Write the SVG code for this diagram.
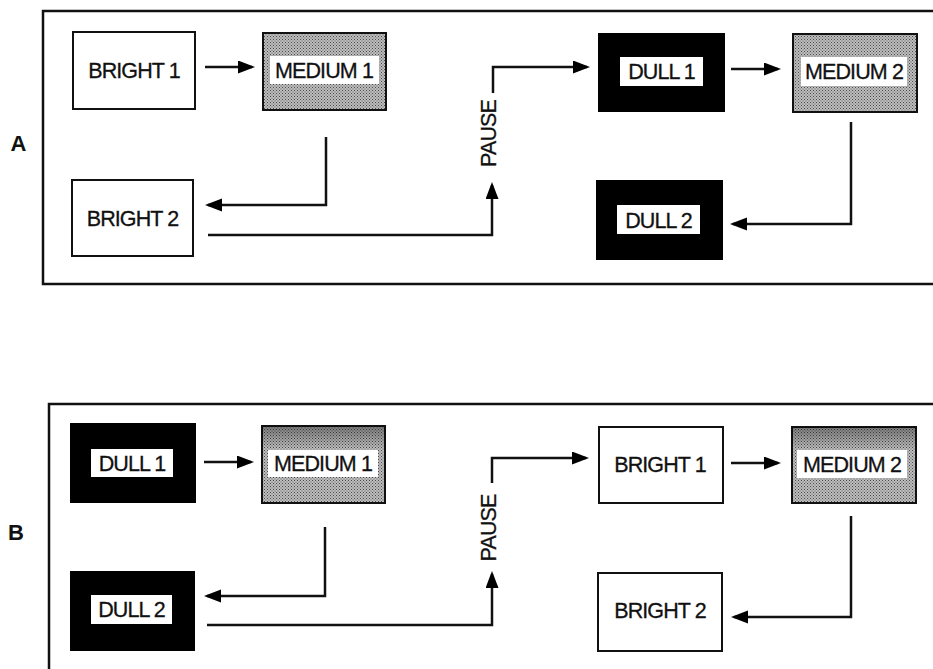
<svg xmlns="http://www.w3.org/2000/svg" width="933" height="669" viewBox="0 0 933 669">
<defs>
<pattern id="stip" width="3" height="3" patternUnits="userSpaceOnUse">
<rect width="3" height="3" fill="#bdbdbd"/>
<rect x="0" y="0" width="1" height="1" fill="#4a4a4a"/>
<rect x="1.5" y="1.5" width="1" height="1" fill="#5a5a5a"/>
</pattern>
<linearGradient id="shadeB1" x1="0" y1="0" x2="0" y2="1">
<stop offset="0" stop-color="#000" stop-opacity="0.35"/>
<stop offset="0.3" stop-color="#000" stop-opacity="0"/>
</linearGradient>
<marker id="ah" markerUnits="userSpaceOnUse" markerWidth="18" markerHeight="14" refX="14" refY="6.5" orient="auto">
<path d="M0,0 L17,6.5 L0,13 Z" fill="#000"/>
</marker>
<style>
.frame{fill:none;stroke:#111;stroke-width:2.5}
.bright{fill:#fff;stroke:#111;stroke-width:2}
.medium{fill:url(#stip);stroke:#111;stroke-width:2}
.dull{fill:#000;stroke:#000;stroke-width:2}
.inner{fill:#fff}
.lbl{font-family:"Liberation Sans",Arial,sans-serif;font-size:21.5px;fill:#111;text-anchor:middle;letter-spacing:-0.9px;stroke:#111;stroke-width:0.3}
.panel{font-family:"Liberation Sans",Arial,sans-serif;font-size:22px;font-weight:bold;fill:#111;text-anchor:middle}
.conn{fill:none;stroke:#111;stroke-width:2.5;marker-end:url(#ah)}
</style>
</defs>

<g id="frames">
<path class="frame" d="M936,11 H43 V284 H936"/>
<path class="frame" d="M936,404 H49 V672"/>
<text class="panel" x="18.5" y="151">A</text>
<text class="panel" x="16" y="540">B</text>
</g>

<!-- Panel A -->
<g id="a-bright1">
<rect class="bright" x="73" y="32" width="122" height="77"/>
<text class="lbl" x="134" y="77.5">BRIGHT 1</text>
</g>
<g id="a-medium1">
<rect class="medium" x="263" y="33" width="123" height="77"/>
<rect class="inner" x="270" y="56" width="109" height="28"/>
<text class="lbl" x="324" y="77.5">MEDIUM 1</text>
</g>
<g id="a-bright2">
<rect class="bright" x="72" y="180" width="121" height="76"/>
<text class="lbl" x="132.5" y="225.5">BRIGHT 2</text>
</g>
<g id="a-pause">
<text class="lbl" transform="translate(496,133.5) rotate(-90)" x="0" y="0">PAUSE</text>
</g>
<g id="a-dull1">
<rect class="dull" x="599" y="34" width="125" height="77"/>
<rect class="inner" x="620" y="57" width="83" height="29"/>
<text class="lbl" x="661.5" y="78.5">DULL 1</text>
</g>
<g id="a-medium2">
<rect class="medium" x="793" y="34" width="124" height="78"/>
<rect class="inner" x="801" y="57" width="106" height="29"/>
<text class="lbl" x="854" y="78.5">MEDIUM 2</text>
</g>
<g id="a-dull2">
<rect class="dull" x="597" y="181" width="125" height="78"/>
<rect class="inner" x="617" y="205" width="83" height="29"/>
<text class="lbl" x="658.5" y="227.5">DULL 2</text>
</g>

<!-- Panel B -->
<g id="b-dull1">
<rect class="dull" x="71" y="424" width="124" height="78"/>
<rect class="inner" x="91" y="449" width="82" height="28"/>
<text class="lbl" x="132" y="470.5">DULL 1</text>
</g>
<g id="b-medium1">
<rect class="medium" x="262" y="426" width="123" height="77"/>
<rect x="262" y="426" width="123" height="77" fill="url(#shadeB1)"/>
<rect class="inner" x="268" y="450" width="110" height="27"/>
<text class="lbl" x="323" y="471">MEDIUM 1</text>
</g>
<g id="b-dull2">
<rect class="dull" x="71" y="572" width="123" height="78"/>
<rect class="inner" x="91" y="595" width="81" height="29"/>
<text class="lbl" x="131.5" y="616.5">DULL 2</text>
</g>
<g id="b-pause">
<text class="lbl" transform="translate(496,528) rotate(-90)" x="0" y="0">PAUSE</text>
</g>
<g id="b-bright1">
<rect class="bright" x="599" y="427" width="124" height="76"/>
<text class="lbl" x="660" y="471.5">BRIGHT 1</text>
</g>
<g id="b-medium2">
<rect class="medium" x="792" y="427" width="124" height="76"/>
<rect x="792" y="427" width="124" height="76" fill="url(#shadeB1)"/>
<rect class="inner" x="797" y="450" width="110" height="28"/>
<text class="lbl" x="852" y="471.5">MEDIUM 2</text>
</g>
<g id="b-bright2">
<rect class="bright" x="598" y="573" width="124" height="78"/>
<text class="lbl" x="660" y="617.5">BRIGHT 2</text>
</g>

<g id="connectors">
<!-- A -->
<path class="conn" d="M205,67 H252"/>
<path class="conn" d="M326,137 V205 H208"/>
<path class="conn" d="M208,235 H492 V185"/>
<path class="conn" d="M493,93 V67 H587"/>
<path class="conn" d="M731,69 H778"/>
<path class="conn" d="M851,122 V224 H733"/>
<!-- B -->
<path class="conn" d="M204,462 H251"/>
<path class="conn" d="M325,527 V596 H207"/>
<path class="conn" d="M207,625 H492 V574"/>
<path class="conn" d="M492,483 V458 H586"/>
<path class="conn" d="M731,463 H778"/>
<path class="conn" d="M851,516 V617 H734"/>
</g>
</svg>
